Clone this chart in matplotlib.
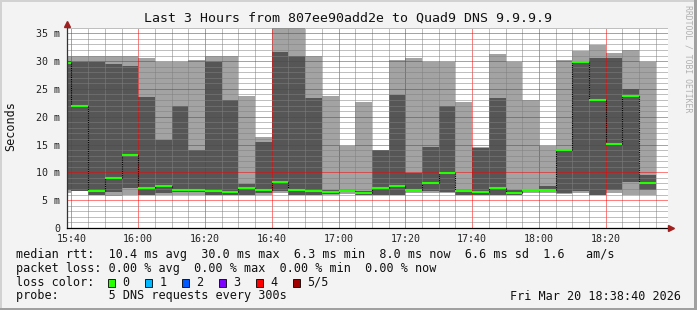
import matplotlib
matplotlib.use("Agg")
import matplotlib.pyplot as plt
import matplotlib.dates as mdates
from matplotlib.patches import Rectangle
from matplotlib.ticker import MultipleLocator
from datetime import datetime
import pandas as pd
import numpy as np

plt.rcParams['font.family'] = 'DejaVu Sans Mono'

W, H = 697, 310

# time window and 5 minute steps (each value stored at end of step)
t_start = datetime(2026, 3, 20, 15, 38, 40)
t_end = datetime(2026, 3, 20, 18, 38, 40)
step_end = pd.date_range('2026-03-20 15:40', '2026-03-20 18:35', freq='5min')

# sorted pings per step (ms)
ping_min = [6.3, 6.6, 5.9, 5.8, 5.9, 5.9, 5.9, 5.9, 5.9, 5.9, 5.9, 5.9,
            6.0, 6.35, 5.9, 5.9, 5.9, 6.2, 5.9, 5.9, 5.9, 6.35, 6.35, 6.3,
            5.9, 5.9, 5.9, 5.9, 6.35, 6.35, 6.2, 6.35, 5.9, 6.35, 5.9, 5.9]
ping_lo = [6.8, 6.7, 6.0, 6.5, 7.25, 6.0, 6.35, 6.4, 6.4, 6.0, 6.0, 6.0,
           6.3, 6.7, 6.0, 6.0, 6.2, 6.4, 6.0, 6.0, 6.0, 6.6, 6.6, 6.5,
           6.0, 6.0, 6.0, 6.0, 6.6, 6.6, 6.3, 6.7, 6.0, 6.8, 8.3, 6.9]
median = [29.6, 22.0, 6.7, 9.0, 13.2, 7.25, 7.6, 6.85, 6.85, 6.7, 6.5, 7.25,
          6.85, 8.3, 6.9, 6.7, 6.4, 6.7, 6.35, 7.25, 7.6, 6.9, 8.15, 9.8,
          6.7, 6.5, 7.25, 6.35, 6.9, 6.9, 14.0, 29.9, 23.0, 15.1, 23.8, 8.0]
ping_hi = [30.0, 29.9, 29.9, 29.5, 29.1, 23.5, 15.8, 21.9, 14.0, 29.9, 23.0, 7.9,
           15.5, 31.7, 30.9, 23.4, 6.8, 6.9, 6.7, 14.0, 23.9, 9.95, 14.6, 21.9,
           6.9, 14.4, 23.4, 6.8, 7.0, 7.6, 14.2, 30.0, 30.6, 30.6, 25.0, 9.6]
ping_max = [31.0, 30.9, 30.9, 30.9, 30.9, 30.6, 29.9, 29.9, 30.2, 30.9, 30.9, 23.8,
            16.4, 38.0, 38.0, 30.9, 23.8, 14.8, 22.6, 14.1, 30.2, 30.6, 29.9, 29.9,
            22.6, 14.5, 31.3, 29.9, 23.0, 14.8, 30.2, 31.8, 32.9, 31.5, 32.0, 29.9]

y_ticks = [0, 5, 10, 15, 20, 25, 30, 35]
y_labels = ['0', '5 m', '10 m', '15 m', '20 m', '25 m', '30 m', '35 m']

title = "Last 3 Hours from 807ee90add2e to Quad9 DNS 9.9.9.9"
rtt_line = "median rtt:  10.4 ms avg  30.0 ms max  6.3 ms min  8.0 ms now  6.6 ms sd  1.6   am/s"
loss_line = "packet loss: 0.00 % avg  0.00 % max  0.00 % min  0.00 % now"
probe_line = "probe:       5 DNS requests every 300s"
date_text = "Fri Mar 20 18:38:40 2026"
loss_names = ['0', '1', '2', '3', '4', '5/5']
loss_colors = ['#26ff00', '#00b8ff', '#0059ff', '#7e00ff', '#ff0000', '#a10000']

fig = plt.figure(figsize=(W / 100, H / 100), dpi=100)
fig.patch.set_facecolor('#f3f3f3')

# frame
fig.add_artist(Rectangle((0, 1 - 2 / H), 1, 2 / H, transform=fig.transFigure, color='#d2d2d2', lw=0))
fig.add_artist(Rectangle((0, 0), 2 / W, 1, transform=fig.transFigure, color='#d2d2d2', lw=0))
fig.add_artist(Rectangle((1 - 3 / W, 0), 3 / W, 1, transform=fig.transFigure, color='#a0a0a0', lw=0))
fig.add_artist(Rectangle((0, 0), 1, 2 / H, transform=fig.transFigure, color='#a0a0a0', lw=0))

ax = fig.add_axes([67 / W, (H - 228) / H, 601 / W, 200.5 / H])
ax.set_facecolor('white')

ends = mdates.date2num(step_end.to_pydatetime())
starts = np.concatenate([[mdates.date2num(t_start)], ends[:-1]])
widths = ends - starts

pmin = np.array(ping_min)
plo = np.array(ping_lo)
phi = np.array(ping_hi)
pmax = np.array(ping_max)
med = np.array(median)

# smoke: outer pair light, inner pair dark
ax.bar(starts, pmax - pmin, width=widths, bottom=pmin, align='edge',
       color='#a3a3a3', lw=0, antialiased=False, zorder=1)
ax.bar(starts, phi - plo, width=widths, bottom=plo, align='edge',
       color='#565656', lw=0, antialiased=False, zorder=1.1)

ax.vlines(ends[:-1], med[:-1], med[1:], colors='black', linestyles=(0, (1, 1)),
          lw=0.8, zorder=3)
ax.hlines(med, starts, ends, colors='#26ff00', lw=1.5, zorder=4)

ax.set_xlim(mdates.date2num(t_start), mdates.date2num(t_end))
ax.set_ylim(0, 36.04)

ax.xaxis.set_major_locator(mdates.MinuteLocator(byminute=[0, 20, 40]))
ax.xaxis.set_minor_locator(mdates.MinuteLocator(byminute=range(0, 60, 5)))
ax.xaxis.set_major_formatter(mdates.DateFormatter('%H:%M'))
ax.set_yticks(y_ticks)
ax.set_yticklabels(y_labels)
ax.yaxis.set_minor_locator(MultipleLocator(1))

ax.tick_params(which='both', length=0)
ax.tick_params(axis='x', labelsize=7.2, pad=4, colors='#222222')
ax.tick_params(axis='y', labelsize=7.2, pad=5, colors='#222222')

ax.set_axisbelow(False)
ax.grid(which='minor', color=(0.5, 0.5, 0.5, 0.35), lw=0.72, linestyle=(0, (1, 1)))
ax.grid(which='major', color=(1.0, 0.0, 0.0, 0.28), lw=0.72, linestyle=(0, (1, 1)))

for s in ax.spines.values():
    s.set_visible(False)
ax.plot([0, 0], [0, 1.02], transform=ax.transAxes, color='#333333', lw=0.9, clip_on=False, zorder=5)
ax.plot([0, 1.005], [0, 0], transform=ax.transAxes, color='black', lw=0.9, clip_on=False, zorder=5)
ax.plot([0], [1.018], marker='^', ms=4.5, color='#a02020', transform=ax.transAxes, clip_on=False, zorder=6)
ax.plot([1.0055], [0], marker='>', ms=4.5, color='#a02020', transform=ax.transAxes, clip_on=False, zorder=6)

fig.text(348 / W, 1 - 18.5 / H, title, ha='center', va='center', fontsize=9.5, color='#111111')
fig.text(11 / W, 1 - 126 / H, 'Seconds', rotation=90, ha='center', va='center', fontsize=8.5, color='#111111')
fig.text(688 / W, 1 - 5 / H, 'RRDTOOL / TOBI OETIKER', rotation=270, ha='center', va='top',
         fontsize=5.9, color='#b0b0b0')

fs = 8.5
fig.text(16 / W, 1 - 254.7 / H, rtt_line, ha='left', va='center', fontsize=fs, color='#111111')
fig.text(16 / W, 1 - 268.5 / H, loss_line, ha='left', va='center', fontsize=fs, color='#111111')
fig.text(16 / W, 1 - 282 / H, 'loss color:', ha='left', va='center', fontsize=fs, color='#111111')
fig.text(16 / W, 1 - 296 / H, probe_line, ha='left', va='center', fontsize=fs, color='#111111')
fig.text(681 / W, 1 - 296 / H, date_text, ha='right', va='center', fontsize=fs, color='#111111')

for i, (name, col) in enumerate(zip(loss_names, loss_colors)):
    bx = 108 + 37 * i
    fig.add_artist(Rectangle((bx / W, 1 - 286.5 / H), 7 / W, 8 / H, transform=fig.transFigure,
                             facecolor=col, edgecolor='black', lw=0.6))
    fig.text((bx + 14.5) / W, 1 - 282 / H, name, ha='left', va='center', fontsize=fs, color='#111111')

fig.savefig('out.png', dpi=100, facecolor=fig.get_facecolor())
